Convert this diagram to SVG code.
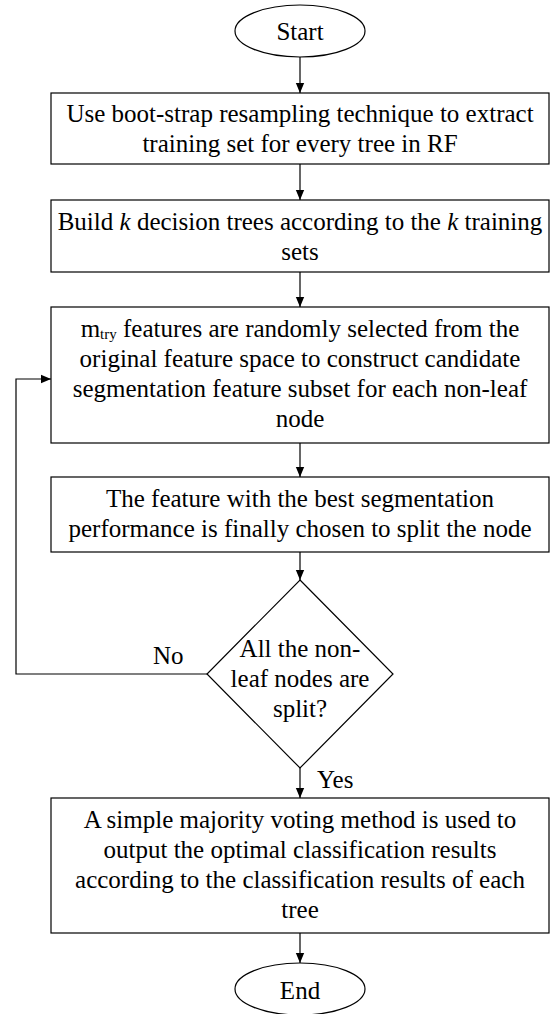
<svg xmlns="http://www.w3.org/2000/svg" width="552" height="1014" viewBox="0 0 552 1014">
<style>
.n{fill:#fff;stroke:#000;stroke-width:1.2}
.t{font-family:'Liberation Serif','Times New Roman',serif;font-size:25px;fill:#000;text-anchor:middle}
.l{font-family:'Liberation Serif','Times New Roman',serif;font-size:25px;fill:#000}
.c{fill:none;stroke:#000;stroke-width:1.2}
</style>
<defs>
<marker id="a" markerWidth="10" markerHeight="12" refX="12" refY="5" viewBox="0 0 12 10" orient="auto" markerUnits="userSpaceOnUse">
<path d="M0,0 L12,5 L0,10 z" fill="#000"/>
</marker>
</defs>
<g id="connectors">
<line class="c" x1="300" y1="57" x2="300" y2="93" marker-end="url(#a)"/>
<line class="c" x1="300" y1="164" x2="300" y2="200" marker-end="url(#a)"/>
<line class="c" x1="300" y1="272" x2="300" y2="307" marker-end="url(#a)"/>
<line class="c" x1="300" y1="443" x2="300" y2="477" marker-end="url(#a)"/>
<line class="c" x1="300" y1="552" x2="300" y2="580" marker-end="url(#a)"/>
<polyline class="c" points="207,674 16,674 16,379 51,379" marker-end="url(#a)"/>
<line class="c" x1="300" y1="768" x2="300" y2="798" marker-end="url(#a)"/>
<line class="c" x1="300" y1="933" x2="300" y2="963" marker-end="url(#a)"/>
<text class="l" x="153" y="664">No</text>
<text class="l" x="317" y="788">Yes</text>
</g>
<g id="start">
<ellipse class="n" cx="300" cy="31" rx="65" ry="26"/>
<text class="t" x="300" y="40">Start</text>
</g>
<g id="bootstrap">
<rect class="n" x="51" y="93" width="498" height="71"/>
<text class="t" x="300" y="122">Use boot-strap resampling technique to extract</text>
<text class="t" x="300" y="152">training set for every tree in RF</text>
</g>
<g id="build">
<rect class="n" x="51" y="200" width="498" height="72"/>
<text class="t" x="300" y="230">Build <tspan font-style="italic">k</tspan> decision trees according to the <tspan font-style="italic">k</tspan> training</text>
<text class="t" x="300" y="260">sets</text>
</g>
<g id="select">
<rect class="n" x="51" y="307" width="498" height="136"/>
<text class="t" x="300" y="337">m<tspan font-size="15" dy="2">try</tspan><tspan dy="-2"> features are randomly selected from the</tspan></text>
<text class="t" x="300" y="367">original feature space to construct candidate</text>
<text class="t" x="300" y="397">segmentation feature subset for each non-leaf</text>
<text class="t" x="300" y="427">node</text>
</g>
<g id="split">
<rect class="n" x="51" y="477" width="498" height="75"/>
<text class="t" x="300" y="507">The feature with the best segmentation</text>
<text class="t" x="300" y="537">performance is finally chosen to split the node</text>
</g>
<g id="decision">
<polygon class="n" points="300,580 393,674 300,768 207,674"/>
<text class="t" x="300" y="657">All the non-</text>
<text class="t" x="300" y="687">leaf nodes are</text>
<text class="t" x="300" y="717">split?</text>
</g>
<g id="vote">
<rect class="n" x="51" y="798" width="498" height="135"/>
<text class="t" x="300" y="828">A simple majority voting method is used to</text>
<text class="t" x="300" y="858">output the optimal classification results</text>
<text class="t" x="300" y="888">according to the classification results of each</text>
<text class="t" x="300" y="918">tree</text>
</g>
<g id="end">
<ellipse class="n" cx="300" cy="989" rx="65" ry="26"/>
<text class="t" x="300" y="999">End</text>
</g>
</svg>
